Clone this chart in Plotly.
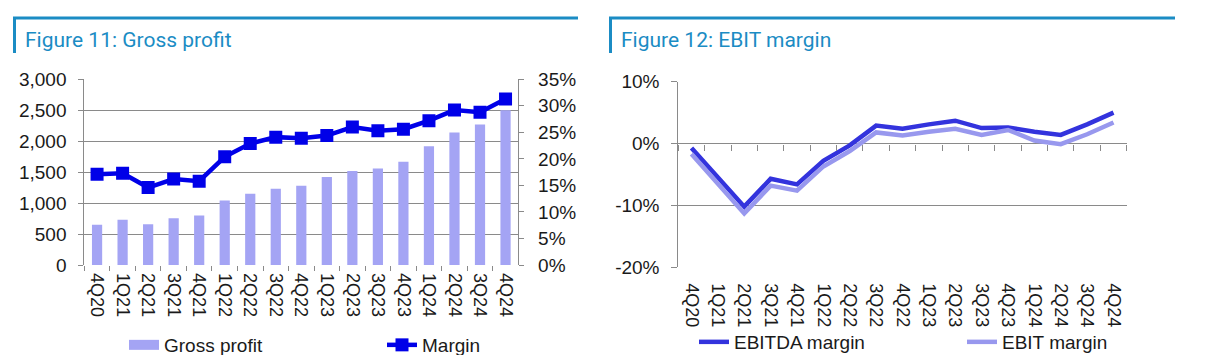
import plotly.graph_objects as go

# page is 1207x363; body has an 8px margin, so the figure is sized to fit inside it
OFF = 8
FW, FH = 1207 - 2 * OFF, 363 - 2 * OFF


def px(x):
    return (x - OFF) / FW


def py(y):
    return (FH - (y - OFF)) / FH


quarters = ["4Q20", "1Q21", "2Q21", "3Q21", "4Q21", "1Q22", "2Q22", "3Q22", "4Q22",
            "1Q23", "2Q23", "3Q23", "4Q23", "1Q24", "2Q24", "3Q24", "4Q24"]
gross_profit = [650, 730, 660, 755, 800, 1040, 1150, 1230, 1280,
                1420, 1520, 1560, 1670, 1920, 2140, 2270, 2500]
gross_margin = [0.171, 0.173, 0.146, 0.162, 0.158, 0.204, 0.229, 0.241, 0.239,
                0.244, 0.260, 0.253, 0.256, 0.272, 0.292, 0.288, 0.313]
ebitda_margin = [-0.007, -0.055, -0.102, -0.057, -0.066, -0.028, -0.003, 0.029, 0.024,
                 0.031, 0.037, 0.025, 0.026, 0.019, 0.014, 0.031, 0.050]
ebit_margin = [-0.017, -0.065, -0.113, -0.068, -0.076, -0.037, -0.012, 0.018, 0.013,
               0.019, 0.024, 0.014, 0.022, 0.005, -0.001, 0.015, 0.034]

left_ticks = [0, 500, 1000, 1500, 2000, 2500, 3000]
right_ticks = [-0.2, -0.1, 0.0, 0.1]
right_labels = ["-20%", "-10%", "0%", "10%"]
right_range = [-0.2, 0.1]

TITLE_COL = "#1b8cc4"
GRID = "#8a8a8a"
TXT = "#1a1a1a"
BAR_COL = "#a4a4f4"
FONT = "Liberation Sans, Arial, sans-serif"

fig = go.Figure()

fig.add_trace(go.Bar(x=quarters, y=gross_profit, name="Gross profit",
                     marker=dict(color=BAR_COL, line=dict(width=0)),
                     xaxis="x", yaxis="y", showlegend=False))
# legend entry for the bars (wide flat swatch, as in the reference)
fig.add_trace(go.Scatter(x=[None], y=[None], name="Gross profit", mode="lines",
                         line=dict(color=BAR_COL, width=10),
                         xaxis="x", yaxis="y", legend="legend"))
fig.add_trace(go.Scatter(x=quarters, y=gross_margin, name="Margin", mode="lines+markers",
                         line=dict(color="#0000e8", width=4.5),
                         marker=dict(symbol="square", size=13, color="#0000e8"),
                         xaxis="x", yaxis="y2", legend="legend"))

fig.add_trace(go.Scatter(x=quarters, y=ebitda_margin, name="EBITDA margin", mode="lines",
                         line=dict(color="#3333dd", width=4.5),
                         xaxis="x3", yaxis="y3", legend="legend2"))
fig.add_trace(go.Scatter(x=quarters, y=ebit_margin, name="EBIT margin", mode="lines",
                         line=dict(color="#9898ee", width=4.5),
                         xaxis="x3", yaxis="y3", legend="legend2"))
# invisible helper so the zero-line tick axis is drawn
fig.add_trace(go.Scatter(x=quarters, y=[None] * len(quarters), mode="lines",
                         showlegend=False, hoverinfo="skip",
                         xaxis="x4", yaxis="y3"))

L_X = [px(84.3), px(518.3)]
L_Y = [py(265), py(79.3)]
R_X = [px(678.3), px(1126.7)]
R_Y = [py(267.3), py(81.7)]
zero_pos = R_Y[0] + (0 - right_range[0]) / (right_range[1] - right_range[0]) * (R_Y[1] - R_Y[0])

tickfont = dict(family=FONT, size=19, color=TXT)
xtickfont = dict(family=FONT, size=18, color=TXT)
legfont = dict(family=FONT, size=19, color=TXT)

fig.update_layout(
    width=FW, height=FH,
    margin=dict(l=0, r=0, t=0, b=0, pad=0, autoexpand=False),
    paper_bgcolor="white", plot_bgcolor="white",
    bargap=0.6,
    showlegend=True,
    xaxis=dict(domain=L_X, anchor="y", type="category", tickangle=90,
               tickfont=xtickfont, ticks="outside", ticklen=5, tickcolor=GRID,
               tickson="boundaries", showgrid=False, showline=False,
               ticklabelstandoff=7, range=[-0.5, 16.5]),
    yaxis=dict(domain=L_Y, anchor="x", range=[0, 3000], tickvals=left_ticks,
               tickformat=",", tickfont=tickfont, showgrid=True, gridcolor=GRID,
               gridwidth=1, showline=True, linecolor=GRID, linewidth=1,
               ticks="outside", ticklen=5, tickcolor=GRID, zeroline=False,
               ticklabelstandoff=8),
    yaxis2=dict(overlaying="y", side="right", anchor="x", range=[0, 0.35], dtick=0.05,
                tickformat=".0%", tickfont=tickfont, showgrid=False,
                showline=True, linecolor=GRID, linewidth=1,
                ticks="outside", ticklen=5, tickcolor=GRID, zeroline=False,
                ticklabelstandoff=10),
    xaxis3=dict(domain=R_X, anchor="y3", type="category", tickangle=90,
                tickfont=xtickfont, ticks="", showgrid=False, showline=False,
                ticklabelstandoff=15, range=[-0.5, 16.5]),
    xaxis4=dict(overlaying="x3", anchor="free", position=zero_pos, type="category",
                range=[-0.5, 16.5], showticklabels=False, ticks="outside", ticklen=6,
                tickcolor=GRID, tickson="boundaries", showgrid=False, showline=False,
                categoryorder="array", categoryarray=quarters),
    yaxis3=dict(domain=R_Y, anchor="x3", range=right_range, tickvals=right_ticks,
                ticktext=right_labels, tickfont=tickfont, showgrid=True, gridcolor=GRID,
                gridwidth=1, showline=True, linecolor=GRID, linewidth=1,
                ticks="outside", ticklen=6, tickcolor=GRID, zeroline=False,
                ticklabelstandoff=8),
    legend=dict(orientation="h", x=px(124), y=py(345), xanchor="left",
                yanchor="middle", font=legfont, entrywidth=213,
                bgcolor="rgba(0,0,0,0)", tracegroupgap=0),
    legend2=dict(orientation="h", x=px(694), y=py(342), xanchor="left",
                 yanchor="middle", font=legfont, entrywidth=223,
                 bgcolor="rgba(0,0,0,0)", tracegroupgap=0),
    annotations=[
        dict(text="Figure 11: Gross profit", x=px(23), y=py(40), xref="paper",
             yref="paper", xanchor="left", yanchor="middle", showarrow=False,
             font=dict(family="Roboto, sans-serif", size=21, color=TITLE_COL)),
        dict(text="Figure 12: EBIT margin", x=px(619), y=py(40), xref="paper",
             yref="paper", xanchor="left", yanchor="middle", showarrow=False,
             font=dict(family="Roboto, sans-serif", size=21, color=TITLE_COL)),
    ],
    shapes=[
        dict(type="line", xref="paper", yref="paper", x0=px(13), x1=px(578),
             y0=py(18), y1=py(18), line=dict(color=TITLE_COL, width=3)),
        dict(type="line", xref="paper", yref="paper", x0=px(14.5), x1=px(14.5),
             y0=py(17), y1=py(53), line=dict(color=TITLE_COL, width=3)),
        dict(type="line", xref="paper", yref="paper", x0=px(609), x1=px(1175),
             y0=py(18), y1=py(18), line=dict(color=TITLE_COL, width=3)),
        dict(type="line", xref="paper", yref="paper", x0=px(610.5), x1=px(610.5),
             y0=py(17), y1=py(53), line=dict(color=TITLE_COL, width=3)),
    ],
)

fig.write_html("out.html")
